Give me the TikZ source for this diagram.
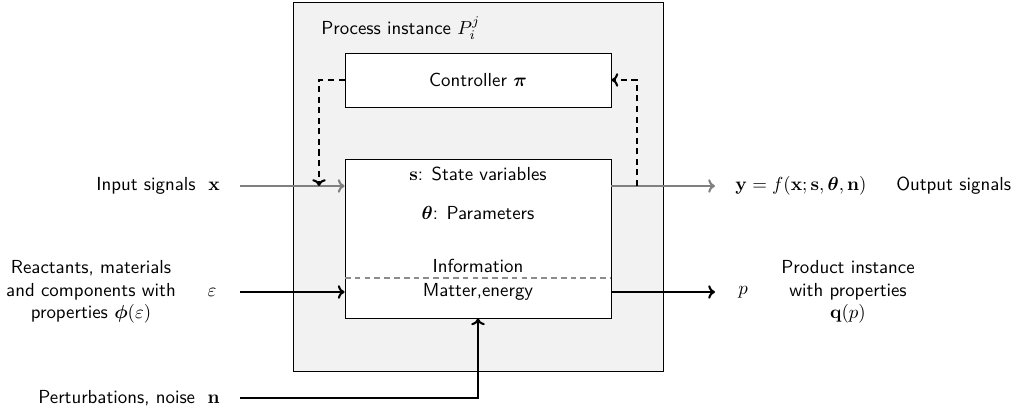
\documentclass[tikz,border=0pt]{standalone}
\usepackage{amsmath,bm}
\usetikzlibrary{arrows.meta}
\newlength\pu
\setlength\pu{0.53pt}
\begin{document}
\begin{tikzpicture}[x=\pu,y=-\pu,font=\sffamily,
  box/.style={draw,fill=white,inner sep=0pt},
  lbl/.style={inner sep=1pt},
  tip/.style={-{To[length=3.6pt,width=7.2pt]}},
  sig/.style={line width=1.1pt,black!50,tip},
  mat/.style={line width=1.1pt,black,tip},
  ctl/.style={line width=1.1pt,dash pattern=on 3.2pt off 2.4pt,tip},
]
\useasboundingbox (0,0) rectangle (1014,412);

% process instance and its blocks
\node[draw,fill=black!5,inner sep=0pt,minimum width=370\pu,minimum height=369\pu] (proc) at (478,186.5) {};
\node[lbl,anchor=west] (title) at (319,28) {Process instance $P_i^j$};
\node[box,minimum width=266\pu,minimum height=54\pu] (ctrl) at (478,80) {Controller $\bm{\pi}$};
\node[box,minimum width=266\pu,minimum height=159\pu] (core) at (478,238.5) {};
\node[lbl] (state) at (478,174) {$\mathbf{s}$: State variables};
\node[lbl] (param) at (478,213) {$\bm{\theta}$: Parameters};
\node[lbl] (info) at (478,266) {Information};
\node[lbl] (matter) at (478,292) {Matter,energy};
\coordinate (divL) at (345,278);
\coordinate (divR) at (611,278);
\draw[black!45,line width=1pt,dash pattern=on 3pt off 2.2pt] (divL) -- (divR);

% left side: inputs
\node[lbl,anchor=east] (inlbl) at (222,186) {Input signals\ \ $\mathbf{x}$};
\node[lbl,align=center] (react) at (91,292) {Reactants, materials\\and components with\\properties $\bm{\phi}(\varepsilon)$};
\node[lbl] (eps) at (212,292) {$\varepsilon$};
\node[lbl,anchor=east] (pert) at (222,398) {Perturbations, noise\ \ $\mathbf{n}$};
\coordinate (inS) at (240,186);
\coordinate (epsS) at (240,292);
\coordinate (pertS) at (240,398);

% right side: outputs
\coordinate (outE) at (715,186);
\coordinate (prodE) at (715,292);
\node[lbl,anchor=west] (ylbl) at (733,186) {$\mathbf{y}=f(\mathbf{x};\mathbf{s},\bm{\theta},\mathbf{n})$};
\node[lbl,anchor=west] (outlbl) at (894,186) {Output signals};
\node[lbl] (plbl) at (743,292) {$p$};
\node[lbl,align=center] (prod) at (848,292) {Product instance\\with properties\\$\mathbf{q}(p)$};

% signal and material flows
\draw[sig] (inS) -- (inS -| core.west);
\draw[sig] (inS -| core.east) -- (outE);
\draw[mat] (epsS) -- (epsS -| core.west);
\draw[mat] (epsS -| core.east) -- (prodE);
\draw[mat] (pertS) -| (core.south);

% control loop
\coordinate (ctlL) at (319,80);
\coordinate (ctlR) at (637,80);
\draw[ctl] (ctrl.west) -- (ctlL) -- (ctlL |- inS);
\draw[ctl] (ctlR |- inS) -- (ctlR) -- (ctrl.east);
\end{tikzpicture}
\end{document}
